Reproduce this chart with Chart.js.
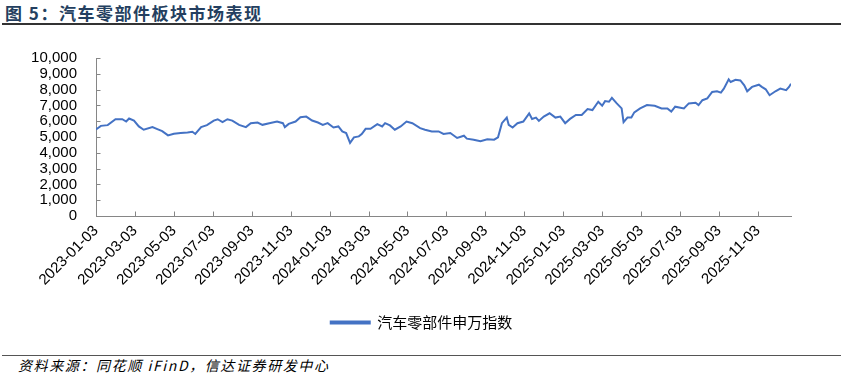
<!DOCTYPE html>
<html>
<head>
<meta charset="utf-8">
<script src="https://cdn.jsdelivr.net/npm/chart.js@4.4.1/dist/chart.umd.min.js"></script>
<style>
  html, body { margin: 0; padding: 0; background: #fff; }
  #page { position: relative; width: 843px; height: 381px; overflow: hidden; background: #fff; }
  #title { position: absolute; left: 5px; top: 3px; font-family: "Noto Sans CJK SC", sans-serif; font-weight: bold; font-size: 17px; letter-spacing: 1.5px; color: #243f60; line-height: 20px; white-space: nowrap; }
  #titleLine { position: absolute; left: 2px; right: 2px; top: 23px; height: 2px; background: #333; }
  #chartBox { position: absolute; left: 0; top: 30px; width: 843px; height: 310px; }
  #srcLine { position: absolute; left: 2px; right: 2px; top: 355px; height: 1px; background: #555; }
  #source { position: absolute; left: 18px; top: 356px; font-family: "Noto Sans CJK SC", sans-serif; font-style: italic; font-size: 14px; letter-spacing: 1.6px; color: #000; line-height: 18px; white-space: nowrap; }
</style>
</head>
<body>
<div id="page">
  <div id="title">图 5：汽车零部件板块市场表现</div>
  <div id="titleLine"></div>
  <div id="chartBox"><canvas id="c"></canvas></div>
  <div id="srcLine"></div>
  <div id="source">资料来源：同花顺 iFinD，信达证券研发中心</div>
</div>
<script>
// Trading-day index (from 2023-01-03) of each sampled point
const dayIdx = [0,5,12,20,27,31,34,39,44,49,58,63,68,74,80,87,94,99,102,108,114,121,125,130,135,140,147,154,159,166,171,178,186,192,194,198,205,210,216,222,228,233,238,
  244,249,253,257,261,265,270,273,277,282,289,294,297,302,307,313,319,325,333,338,345,352,357,364,371,378,381,388,395,402,409,413,417,422,424,428,433,439,445,448,452,455,460,466,472,477,
  482,487,493,499,505,510,516,520,523,527,530,535,540,542,546,550,553,559,566,574,581,587,591,595,604,609,616,619,623,628,633,638,642,645,650,652,657,662,666,669,674,681,684,688,692,698,703,709,712,714];
// 汽车零部件申万指数 values
const indexValues = [5480,5706,5750,6125,6125,5980,6170,6040,5670,5460,5625,5500,5375,5100,5200,5250,5290,5330,5190,5625,5750,6040,6125,5940,6125,6040,5770,5625,5875,5915,5770,5875,5980,5875,5625,5830,5980,6250,6290,6040,5915,5770,5875,
  5600,5670,5350,5250,4625,4980,5040,5190,5520,5520,5810,5670,5875,5730,5460,5670,5980,5875,5560,5460,5350,5350,5190,5250,4940,5080,4895,4830,4730,4855,4830,4980,5875,6230,5770,5600,5875,5980,6500,6145,6230,6020,6290,6500,6230,6290,
  5875,6145,6395,6395,6770,6705,7230,6980,7270,7230,7480,7125,6810,5940,6230,6230,6560,6810,7020,6980,6810,6810,6605,6920,6810,7125,7170,7020,7330,7440,7855,7895,7810,8060,8645,8480,8625,8580,8270,7895,8170,8310,8170,8020,7645,7895,8060,7960,8170,8375];
// x-axis tick positions (trading-day index) and their labels
const tickIdx = [0,40,80,120,160,200,240,280,320,360,400,440,480,520,560,600,640,680];
const tickLabels = ["2023-01-03","2023-03-03","2023-05-03","2023-07-03","2023-09-03","2023-11-03","2024-01-03","2024-03-03","2024-05-03","2024-07-03","2024-09-03","2024-11-03","2025-01-03","2025-03-03","2025-05-03","2025-07-03","2025-09-03","2025-11-03"];
const lastDay = 714;
const seriesName = "汽车零部件申万指数";

const points = dayIdx.map((d, i) => ({ x: d, y: indexValues[i] }));
const axisColor = "#868686";

const innerTicks = {
  id: "innerTicks",
  afterDraw(chart) {
    const ctx = chart.ctx, x = chart.scales.x, y = chart.scales.y;
    ctx.save();
    ctx.strokeStyle = axisColor;
    ctx.lineWidth = 1;
    ctx.beginPath();
    const yb = Math.round(y.getPixelForValue(0)) + 0.5;
    tickIdx.forEach(v => {
      const px = Math.round(x.getPixelForValue(v)) + 0.5;
      ctx.moveTo(px, yb); ctx.lineTo(px, yb - 5);
    });
    const xl = Math.round(x.getPixelForValue(0)) + 0.5;
    y.ticks.forEach(t => {
      const py = Math.round(y.getPixelForValue(t.value)) + 0.5;
      ctx.moveTo(xl, py); ctx.lineTo(xl + 4, py);
    });
    ctx.stroke();
    ctx.restore();
  }
};

new Chart(document.getElementById("c"), {
  type: "line",
  data: {
    datasets: [{
      label: seriesName,
      data: points,
      borderColor: "#4472C4",
      backgroundColor: "#4472C4",
      borderWidth: 2,
      pointRadius: 0,
      tension: 0
    }]
  },
  options: {
    responsive: true,
    maintainAspectRatio: false,
    animation: false,
    layout: { padding: { top: 17, left: 0, right: 0, bottom: 0 } },
    plugins: {
      tooltip: { enabled: false },
      legend: {
        position: "bottom",
        labels: {
          boxWidth: 39, boxHeight: 2, padding: 10,
          color: "#000",
          font: { family: "'Noto Sans CJK SC', sans-serif", size: 15 }
        }
      }
    },
    scales: {
      x: {
        type: "linear",
        min: 0, max: lastDay,
        afterBuildTicks: s => { s.ticks = tickIdx.map(v => ({ value: v })); },
        afterFit: s => { s.height = 89; },
        border: { display: true, color: axisColor, width: 1 },
        grid: { display: false, drawTicks: false },
        ticks: {
          autoSkip: false, maxRotation: 45, minRotation: 45, padding: 6,
          color: "#000",
          font: { family: "'Liberation Sans', Arial, sans-serif", size: 15 },
          callback: (v, i) => tickLabels[i]
        }
      },
      y: {
        min: 0, max: 10000,
        afterFit: s => { s.width = 96; },
        border: { display: true, color: axisColor, width: 1 },
        grid: { display: false, drawTicks: false },
        ticks: {
          stepSize: 1000, padding: 19, autoSkip: false,
          color: "#000",
          font: { family: "'Liberation Sans', Arial, sans-serif", size: 15 },
          callback: v => v.toLocaleString("en-US")
        }
      },
      yRight: {
        position: "right",
        min: 0, max: 1,
        afterFit: s => { s.width = 52; },
        border: { display: false },
        grid: { display: false, drawTicks: false },
        ticks: { display: false }
      }
    }
  },
  plugins: [innerTicks]
});
</script>
</body>
</html>
